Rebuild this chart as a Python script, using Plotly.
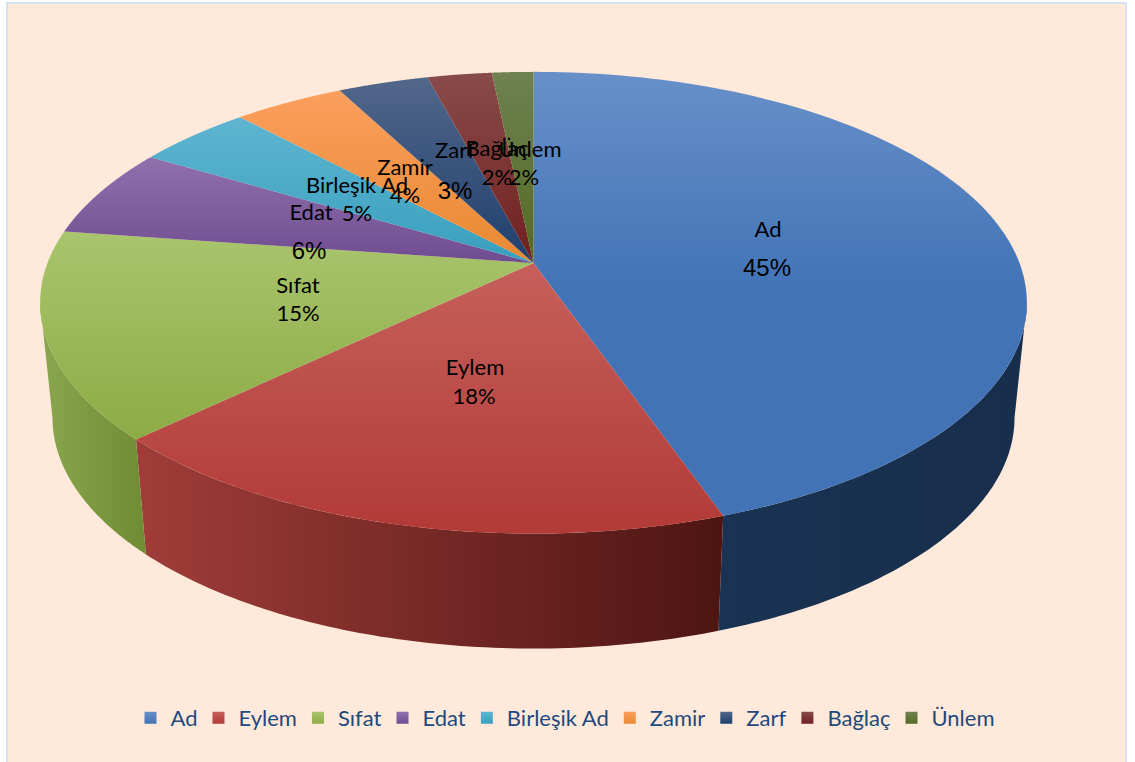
# 3D-look pie: perspective disc drawn with filled scatter traces on pixel-sized axes

import numpy as np
import plotly.graph_objects as go

# ── Data ───────────────────────────────────────────────
CATEGORIES = ["Ad", "Eylem", "Sıfat", "Edat", "Birleşik Ad", "Zamir", "Zarf", "Bağlaç", "Ünlem"]
VALUES = [44.7, 18.1, 14.5, 6.3, 4.5, 4.3, 3.5, 2.5, 1.6]
PERCENT_LABELS = ["45%", "18%", "15%", "6%", "5%", "4%", "3%", "2%", "2%"]

# ── Colours ────────────────────────────────────────────
# (far end of the slice, near end of the slice)
TOP_COLORS = [
    ("#6790c8", "#4173b6"), ("#c6605c", "#b23a37"), ("#a9c56d", "#8dab45"),
    ("#9070ad", "#6f4c90"), ("#5fb5d1", "#389fbe"), ("#fb9f5e", "#e88930"),
    ("#52678a", "#1f3f6d"), ("#884c4a", "#6f1f1e"), ("#6f8150", "#536a24"),
]
# how far down the slice the near colour is reached
NEAR_AT = [0.5, 1, 1, 1, 1, 1, 1, 1, 1]
# (left end of the wall, right end of the wall)
WALL_COLORS = {
    "Ad": ("#1a3352", "#172e4c"),
    "Eylem": ("#a03d3a", "#4d1512"),
    "Sıfat": ("#89a74e", "#6f8c33"),
}
TEXT_COLOR = "#1f497d"
BG_COLOR = "#fee9da"
BORDER_COLOR = "#d6e2f2"

# ── Disc geometry (pixels) ─────────────────────────────
CX, APEX_Y = 533.5, 263
A, B, K = 486, 224, 0.172   # horizontal / vertical radius, perspective strength
WALL_SHIFT, WALL_SCALE_X = 378, 0.975

# ── Label placement ────────────────────────────────────
NAME_X = [768, 475, 298, 311, 357, 405, 455, 497, 530]
NAME_Y = [231, 369, 287, 214, 187, 169, 152, 150, 151]
PCT_X = [767, 474, 298, 309, 357, 405, 455, 497, 524]
PCT_Y = [270, 398, 315, 253, 215, 197, 193, 179, 179]
PCT_SIZES = [24, 22, 22, 24, 22, 22, 24, 22, 22]
PCT_FONTS = ["Liberation Sans" if s == 24 else "Lato" for s in PCT_SIZES]


def rim(frac):
    """Screen position of the top rim at a given fraction of the full circle."""
    theta = 2 * np.pi * np.asarray(frac)
    w = 1 + K * np.cos(theta)
    return CX + A * np.sin(theta) / w, APEX_Y - B * np.cos(theta) / w


def wall_rim(frac):
    x, y = rim(frac)
    return CX + WALL_SCALE_X * (x - CX), WALL_SHIFT + (y - APEX_Y)


fig = go.Figure()

edges = np.concatenate([[0], np.cumsum(VALUES)]) / sum(VALUES)
tangent = np.arccos(-K) / (2 * np.pi)   # where the disc outline turns away

# Side walls, only the front part of the disc is visible
for i, name in enumerate(CATEGORIES):
    start, end = max(edges[i], tangent), min(edges[i + 1], 1 - tangent)
    if start >= end:
        continue
    f = np.linspace(start, end, 80)
    tx, ty = rim(f)
    bx, by = wall_rim(f)
    xs = np.concatenate([tx, bx[::-1]])
    ys = np.concatenate([ty, by[::-1]])
    left, right = WALL_COLORS[name]
    fig.add_trace(go.Scatter(
        x=xs, y=ys, mode="none", fill="toself", showlegend=False, hoverinfo="skip",
        fillgradient=dict(
            type="horizontal", start=xs.min(), stop=xs.max(),
            colorscale=[[0, left], [1, right]],
        ),
    ))

# Top surface
for i, name in enumerate(CATEGORIES):
    f = np.linspace(edges[i], edges[i + 1], 120)
    rx, ry = rim(f)
    xs = np.concatenate([[CX], rx, [CX]])
    ys = np.concatenate([[APEX_Y], ry, [APEX_Y]])
    far, near = TOP_COLORS[i]
    stops = [[0, far], [NEAR_AT[i], near]]
    if NEAR_AT[i] < 1:
        stops.append([1, near])
    fig.add_trace(go.Scatter(
        x=xs, y=ys, mode="none", fill="toself", showlegend=False,
        hovertemplate=f"{name}: {PERCENT_LABELS[i]}<extra></extra>",
        fillgradient=dict(type="vertical", start=ys.min(), stop=ys.max(), colorscale=stops),
    ))

# Legend entries
for i, name in enumerate(CATEGORIES):
    far, near = TOP_COLORS[i]
    fig.add_trace(go.Scatter(
        x=[None], y=[None], mode="markers", name=name,
        marker=dict(symbol="square", size=12, color=far,
                    gradient=dict(type="vertical", color=near)),
    ))

# Data labels
fig.add_trace(go.Scatter(
    x=NAME_X, y=NAME_Y, mode="text", text=CATEGORIES, showlegend=False, hoverinfo="skip",
    textposition="middle center",
    textfont=dict(family="Lato", size=22, color="black"),
))
fig.add_trace(go.Scatter(
    x=PCT_X, y=PCT_Y, mode="text", text=PERCENT_LABELS, showlegend=False, hoverinfo="skip",
    textposition="middle center",
    textfont=dict(family=PCT_FONTS, size=PCT_SIZES, color="black"),
))

fig.update_layout(
    width=1135, height=762,
    margin=dict(t=0, b=0, l=0, r=0),
    paper_bgcolor="white",
    plot_bgcolor="white",
    font=dict(family="Lato"),
    xaxis=dict(range=[0, 1135], visible=False, fixedrange=True),
    yaxis=dict(range=[762, 0], visible=False, fixedrange=True),
    shapes=[dict(
        type="rect", layer="below", x0=7, y0=3, x1=1126, y1=775,
        fillcolor=BG_COLOR, line=dict(color=BORDER_COLOR, width=2),
    )],
    legend=dict(
        orientation="h", x=0.5, xanchor="center", y=0.0577, yanchor="middle",
        bgcolor="rgba(0,0,0,0)", font=dict(family="Lato", size=22, color=TEXT_COLOR),
        indentation=-4,
    ),
)

fig.write_html("out.html", config={"displayModeBar": False},
               post_script="document.body.style.margin='0';")
